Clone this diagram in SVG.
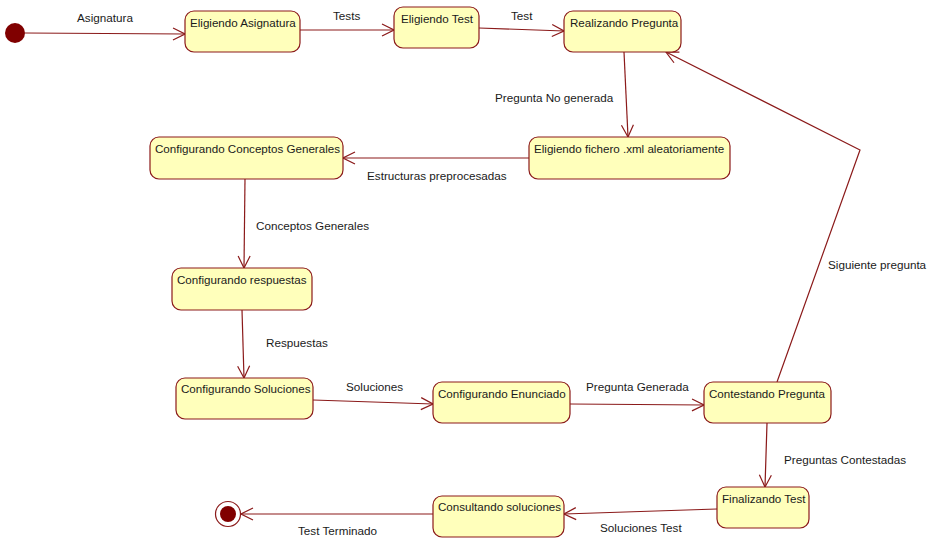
<svg xmlns="http://www.w3.org/2000/svg" width="928" height="539" viewBox="0 0 928 539">
  <style>
    .state rect { fill: #ffffbb; stroke: #8b1a1a; stroke-width: 1.2; }
    .state text, .lbl { font-family: "Liberation Sans", Arial, sans-serif; font-size: 11.7px; fill: #1a1a1a; }
    .state text { font-size: 11.6px; }
    .edges path { fill: none; stroke: #8b1a1a; stroke-width: 1.2; marker-end: url(#open); }
  </style>
  <defs>
    <marker id="open" viewBox="0 0 14 14" refX="13" refY="7" markerWidth="14" markerHeight="14" markerUnits="userSpaceOnUse" orient="auto">
      <path d="M1,1 L13,7 L1,13" fill="none" stroke="#8b1a1a" stroke-width="1.2"/>
    </marker>
  </defs>
  <rect width="928" height="539" fill="#ffffff"/>

  <!-- transitions -->
  <g id="connectors" class="edges">
    <path d="M25,33 L185,34"/>
    <path d="M300,30 L394,30"/>
    <path d="M479,28 L564,31"/>
    <path d="M624,52 L628,137"/>
    <path d="M529,158 L343,158"/>
    <path d="M245,179 L244,268"/>
    <path d="M242,310 L244,378"/>
    <path d="M313,400 L433,404"/>
    <path d="M570,404 L704,405"/>
    <path d="M777,382 L860,150 L666,52"/>
    <path d="M767,423 L765,487"/>
    <path d="M717,509 L564,514"/>
    <path d="M433,514 L241,514"/>
  </g>

  <!-- transition labels -->
  <g id="labels">
    <text class="lbl" x="77" y="22">Asignatura</text>
    <text class="lbl" x="333" y="20">Tests</text>
    <text class="lbl" x="511" y="20">Test</text>
    <text class="lbl" x="495" y="102">Pregunta No generada</text>
    <text class="lbl" x="367" y="180">Estructuras preprocesadas</text>
    <text class="lbl" x="256" y="230">Conceptos Generales</text>
    <text class="lbl" x="266" y="347">Respuestas</text>
    <text class="lbl" x="346" y="391">Soluciones</text>
    <text class="lbl" x="586" y="391">Pregunta Generada</text>
    <text class="lbl" x="828" y="269">Siguiente pregunta</text>
    <text class="lbl" x="784" y="464">Preguntas Contestadas</text>
    <text class="lbl" x="600" y="532">Soluciones Test</text>
    <text class="lbl" x="298" y="535">Test Terminado</text>
  </g>

  <!-- initial and final pseudo-states -->
  <g id="start">
    <circle cx="15" cy="33" r="10" fill="#800000"/>
  </g>
  <g id="end">
    <circle cx="228" cy="514" r="12.5" fill="#ffffff" stroke="#8b1a1a" stroke-width="1.2"/>
    <circle cx="228" cy="514" r="8" fill="#800000"/>
  </g>

  <!-- states -->
  <g id="eligiendo-asignatura" class="state">
    <rect x="185" y="11" width="115" height="41" rx="9"/>
    <text x="190" y="27">Eligiendo Asignatura</text>
  </g>
  <g id="eligiendo-test" class="state">
    <rect x="394" y="7" width="85" height="41" rx="9"/>
    <text x="401" y="23">Eligiendo Test</text>
  </g>
  <g id="realizando-pregunta" class="state">
    <rect x="564" y="11" width="117" height="41" rx="9"/>
    <text x="570" y="27">Realizando Pregunta</text>
  </g>
  <g id="eligiendo-fichero" class="state">
    <rect x="529" y="137" width="201" height="42" rx="9"/>
    <text x="534" y="153">Eligiendo fichero .xml aleatoriamente</text>
  </g>
  <g id="configurando-conceptos" class="state">
    <rect x="150" y="137" width="193" height="42" rx="9"/>
    <text x="155" y="153">Configurando Conceptos Generales</text>
  </g>
  <g id="configurando-respuestas" class="state">
    <rect x="172" y="268" width="140" height="42" rx="9"/>
    <text x="177" y="284">Configurando respuestas</text>
  </g>
  <g id="configurando-soluciones" class="state">
    <rect x="176" y="378" width="137" height="41" rx="9"/>
    <text x="181" y="393">Configurando Soluciones</text>
  </g>
  <g id="configurando-enunciado" class="state">
    <rect x="433" y="382" width="137" height="41" rx="9"/>
    <text x="438" y="398">Configurando Enunciado</text>
  </g>
  <g id="contestando-pregunta" class="state">
    <rect x="704" y="382" width="127" height="41" rx="9"/>
    <text x="709" y="398">Contestando Pregunta</text>
  </g>
  <g id="finalizando-test" class="state">
    <rect x="717" y="487" width="92" height="41" rx="9"/>
    <text x="722" y="503">Finalizando Test</text>
  </g>
  <g id="consultando-soluciones" class="state">
    <rect x="433" y="496" width="131" height="41" rx="9"/>
    <text x="438" y="511">Consultando soluciones</text>
  </g>
</svg>
